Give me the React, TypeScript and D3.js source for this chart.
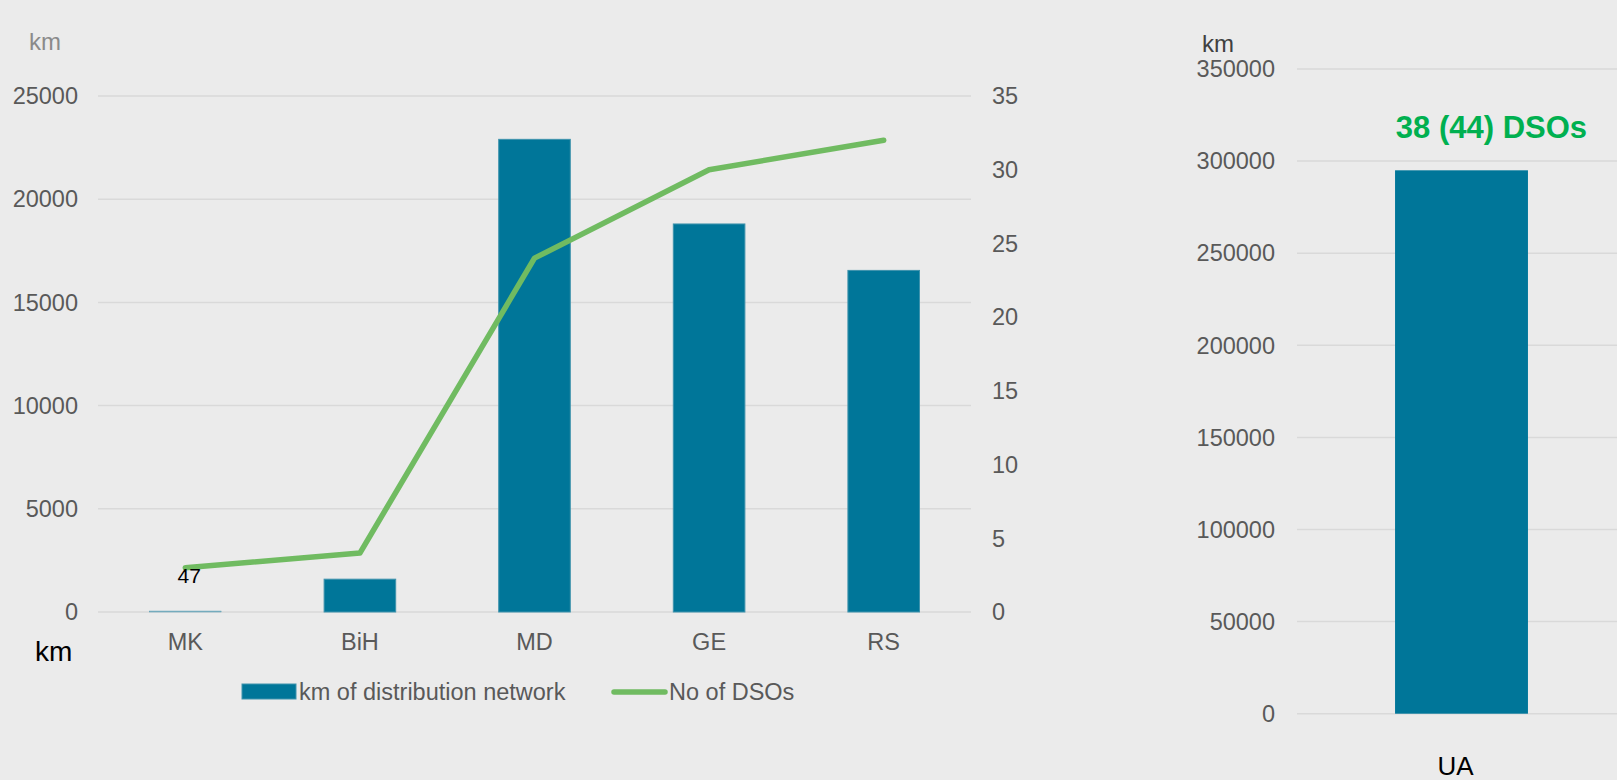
import React from "react";
import * as d3 from "d3";

const categories = ["MK", "BiH", "MD", "GE", "RS"];
const kmValues = [47, 1590, 22900, 18800, 16550];
const dsoValues = [3, 4, 24, 30, 32];
const leftTicks = [0, 5000, 10000, 15000, 20000, 25000];
const rightTicks = [0, 5, 10, 15, 20, 25, 30, 35];

const uaCategories = ["UA"];
const uaValues = [295000];
const uaTicks = [0, 50000, 100000, 150000, 200000, 250000, 300000, 350000];
const uaLabel = "38 (44) DSOs";

const FONT = "'Liberation Sans', Arial, sans-serif";
const BAR = "#007699";
const BAR_EDGE = "#3f93ad";
const GREEN = "#70bb61";
const GRID = "#d9d9d9";
const TXT = "#595959";

export default function App() {
  const W = 1617, H = 780;
  const x = d3.scaleBand<string>().domain(categories).range([98, 971]).paddingInner(0.59).paddingOuter(0.295);
  const yL = d3.scaleLinear().domain([0, 25000]).range([612, 96]);
  const yR = d3.scaleLinear().domain([0, 35]).range([612, 96]);
  const line = d3.line<number>()
    .x((_, i) => (x(categories[i]) as number) + x.bandwidth() / 2)
    .y((d) => yR(d));

  const x2 = d3.scaleBand<string>().domain(uaCategories).range([1297, 1626]).paddingInner(0.596).paddingOuter(0.298);
  const y2 = d3.scaleLinear().domain([0, 350000]).range([713.7, 69]);

  return (
    <div style={{ position: "absolute", left: 0, top: 0, width: W, height: H }}>
      <svg width={W} height={H} style={{ display: "block", fontFamily: FONT }}>
        <rect x={0} y={0} width={W} height={H} fill="#ebebeb" />
        {leftTicks.map((t) => (
          <line key={"g" + t} x1={98} x2={971} y1={yL(t)} y2={yL(t)} stroke={GRID} strokeWidth={1.5} />
        ))}
        {leftTicks.map((t) => (
          <text key={"l" + t} x={78} y={yL(t)} dy="0.35em" textAnchor="end" fontSize={23.5} fill={TXT}>{t}</text>
        ))}
        {rightTicks.map((t) => (
          <text key={"r" + t} x={992} y={yR(t)} dy="0.35em" textAnchor="start" fontSize={23.5} fill={TXT}>{t}</text>
        ))}
        {categories.map((c, i) => (
          <rect key={"b" + c} x={x(c) as number} y={yL(kmValues[i])} width={x.bandwidth()}
            height={Math.max(0, yL(0) - yL(kmValues[i]))} fill={BAR} stroke={BAR_EDGE}
            strokeWidth={kmValues[i] < 500 ? 0.4 : 1} fillOpacity={kmValues[i] < 500 ? 0.3 : 1} />
        ))}
        {categories.map((c) => (
          <text key={"c" + c} x={(x(c) as number) + x.bandwidth() / 2} y={650} textAnchor="middle" fontSize={23.5} fill={TXT}>{c}</text>
        ))}
        <path d={line(dsoValues) || ""} fill="none" stroke={GREEN} strokeWidth={5.5} strokeLinecap="round" strokeLinejoin="round" />
        <text x={(x("MK") as number) + x.bandwidth() / 2 + 4} y={583} textAnchor="middle" fontSize={21} fill="#000">{kmValues[0]}</text>
        <text x={29} y={50} fontSize={24} fill="#8a8a8a">km</text>
        <text x={35} y={661} fontSize={28} fill="#000">km</text>
        <rect x={242} y={684} width={54} height={15} fill={BAR} stroke={BAR_EDGE} strokeWidth={1} />
        <text x={299} y={692} dy="0.35em" fontSize={23.5} fill={TXT}>km of distribution network</text>
        <line x1={614} x2={665} y1={692} y2={692} stroke={GREEN} strokeWidth={5.5} strokeLinecap="round" />
        <text x={669} y={692} dy="0.35em" fontSize={23.5} fill={TXT}>No of DSOs</text>

        {uaTicks.map((t) => (
          <line key={"ug" + t} x1={1297} x2={W} y1={y2(t)} y2={y2(t)} stroke={GRID} strokeWidth={1.5} />
        ))}
        {uaTicks.map((t) => (
          <text key={"ul" + t} x={1275} y={y2(t)} dy="0.35em" textAnchor="end" fontSize={23.5} fill={TXT}>{t}</text>
        ))}
        {uaCategories.map((c, i) => (
          <rect key={"ub" + c} x={x2(c) as number} y={y2(uaValues[i])} width={x2.bandwidth()}
            height={y2(0) - y2(uaValues[i])} fill={BAR} />
        ))}
        {uaCategories.map((c) => (
          <text key={"uc" + c} x={(x2(c) as number) + x2.bandwidth() / 2 - 6} y={775} textAnchor="middle" fontSize={26} fill="#000">{c}</text>
        ))}
        <text x={1491.5} y={138} textAnchor="middle" fontSize={31} fontWeight="bold" fill="#00b050">{uaLabel}</text>
        <text x={1202} y={52} fontSize={24} fill="#404040">km</text>
      </svg>
    </div>
  );
}
